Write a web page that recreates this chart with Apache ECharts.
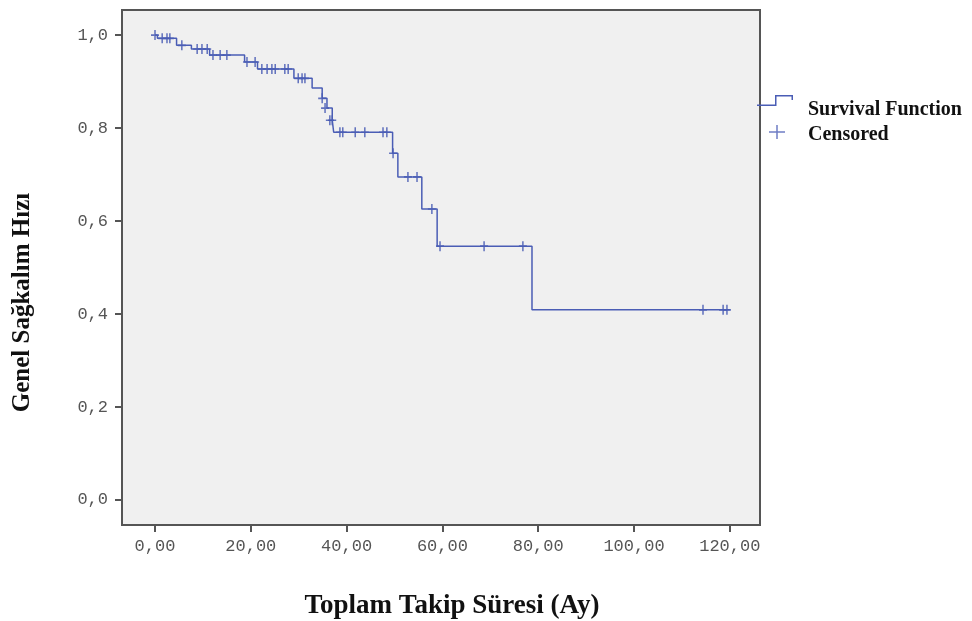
<!DOCTYPE html>
<html><head><meta charset="utf-8">
<script src="https://cdn.jsdelivr.net/npm/echarts@6/dist/echarts.min.js"></script>
<style>html,body{margin:0;padding:0;background:#fff}#c{width:972px;height:621px}</style>
</head><body><div id="c"></div>
<script>
// Kaplan-Meier step: time of drop and survival after it
const stepTimes = [0, 0.5, 4.5, 7.6, 11.4, 18.7, 21.4, 29.0, 32.8, 34.9, 35.9, 37.0, 37.3, 49.6, 50.7, 55.7, 58.9, 78.7, 120];
const stepSurv  = [1.0, 0.993, 0.978, 0.970, 0.957, 0.942, 0.927, 0.907, 0.886, 0.864, 0.843, 0.817, 0.791, 0.746, 0.695, 0.626, 0.546, 0.409, 0.409];
// censored observations
const censTimes = [0, 1.5, 2.5, 3.1, 5.6, 8.8, 9.8, 10.9, 12.1, 13.6, 15.0, 19.2, 20.9, 22.3, 23.4, 24.4, 25.1, 27.1, 27.8, 29.9, 30.7, 31.3, 34.9, 35.5, 36.5, 37.0, 38.6, 39.2, 41.8, 43.8, 47.6, 48.4, 49.7, 52.8, 54.7, 57.8, 59.5, 68.7, 76.8, 114.4, 118.6, 119.4];
const censSurv  = [1.0, 0.993, 0.993, 0.993, 0.978, 0.970, 0.970, 0.970, 0.957, 0.957, 0.957, 0.942, 0.942, 0.927, 0.927, 0.927, 0.927, 0.927, 0.927, 0.907, 0.907, 0.907, 0.864, 0.843, 0.817, 0.817, 0.791, 0.791, 0.791, 0.791, 0.791, 0.791, 0.746, 0.695, 0.695, 0.626, 0.546, 0.546, 0.546, 0.409, 0.409, 0.409];
const xTicks = [0, 20, 40, 60, 80, 100, 120];
const xTickLabels = ['0,00', '20,00', '40,00', '60,00', '80,00', '100,00', '120,00'];
const yTicks = [0, 0.2, 0.4, 0.6, 0.8, 1.0];
const yTickLabels = ['0,0', '0,2', '0,4', '0,6', '0,8', '1,0'];
const seriesNames = ['Survival Function', 'Censored'];

const blue = '#4a5db5';
const plusPath = 'path://M3.4,0h1.6v10h-1.6zM0,4.2h8.4v1.6h-8.4z';
const bboxDots = 'M0,0h0.01v0.01h-0.01zM37.99,29.99h0.01v0.01h-0.01z';
const stepIcon = 'path://M0,9.5h19.5v1.5h-19.5zM18,0h1.5v11h-1.5zM18,0h18v1.5h-18zM34.5,0h1.5v5h-1.5z' + bboxDots;
const plusIcon = 'path://M12,11.25h16v1.5h-16zM19.25,5h1.5v14h-1.5z' + bboxDots;

const chart = echarts.init(document.getElementById('c'), null, {renderer: 'canvas'});
chart.setOption({
  backgroundColor: '#ffffff',
  animation: false,
  grid: {left: 122, right: 212, top: 10, bottom: 96, show: true, containLabel: false, outerBoundsMode: 'none',
         backgroundColor: '#f0f0f0', borderColor: '#555555', borderWidth: 2},
  legend: {
    orient: 'vertical', left: 757, top: 95, padding: 0, itemWidth: 38, itemHeight: 30, itemGap: -5,
    textStyle: {fontFamily: 'Liberation Serif', fontWeight: 'bold', fontSize: 20, color: '#111', padding: [0,0,0,8]},
    data: [
      {name: seriesNames[0], icon: stepIcon, itemStyle: {color: blue}},
      {name: seriesNames[1], icon: plusIcon, itemStyle: {color: blue}}
    ]
  },
  xAxis: {
    type: 'value', min: -6.89, max: 126.3,
    name: 'Toplam Takip Süresi (Ay)', nameLocation: 'middle', nameGap: 68,
    nameTextStyle: {fontFamily: 'Liberation Serif', fontWeight: 'bold', fontSize: 27, color: '#111', padding: [0,0,0,22]},
    axisLine: {show: false, onZero: false}, splitLine: {show: false},
    axisTick: {show: true, length: 7, customValues: xTicks, lineStyle: {color: '#555', width: 2}},
    axisLabel: {customValues: xTicks, margin: 13, fontFamily: 'Liberation Mono', fontSize: 17, color: '#555',
      formatter: v => xTickLabels[xTicks.indexOf(Math.round(v))] || ''}
  },
  yAxis: {
    type: 'value', min: -0.0538, max: 1.054,
    name: 'Genel Sağkalım Hızı', nameLocation: 'middle', nameGap: 87, nameRotate: 90,
    nameTextStyle: {fontFamily: 'Liberation Serif', fontWeight: 'bold', fontSize: 25, color: '#111', padding: [0,70,0,0]},
    axisLine: {show: false, onZero: false}, splitLine: {show: false},
    axisTick: {show: true, length: 7, customValues: yTicks, lineStyle: {color: '#555', width: 2}},
    axisLabel: {customValues: yTicks, margin: 14, fontFamily: 'Liberation Mono', fontSize: 17, color: '#555',
      formatter: v => yTickLabels[yTicks.findIndex(t => Math.abs(t - v) < 1e-6)] || ''}
  },
  series: [
    {name: seriesNames[0], type: 'line', step: 'end', symbol: 'none',
     lineStyle: {color: blue, width: 1.5}, itemStyle: {color: blue},
     data: stepTimes.map((t, i) => [t, stepSurv[i]])},
    {name: seriesNames[1], type: 'scatter', symbol: plusPath, symbolSize: [8, 10],
     itemStyle: {color: '#3f52b0'},
     data: censTimes.map((t, i) => [t, censSurv[i]])}
  ]
});
</script></body></html>
